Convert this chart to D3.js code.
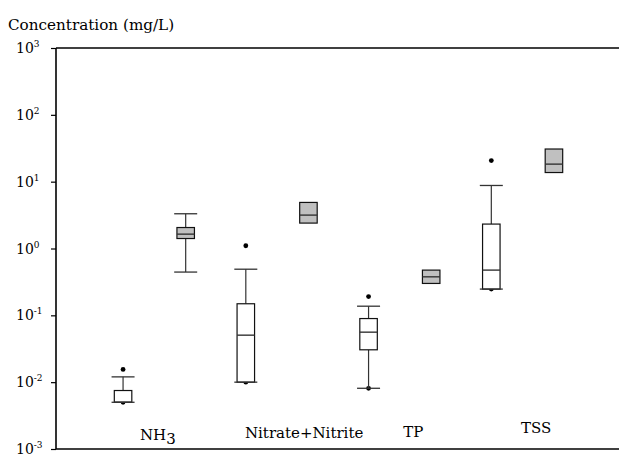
<!DOCTYPE html>
<html>
<head>
<meta charset="utf-8">
<script src="https://cdn.jsdelivr.net/npm/d3@7"></script>
<style>
  html, body { margin: 0; padding: 0; background: #fff; }
</style>
</head>
<body>
<svg id="chart" width="619" height="454"></svg>
<script>
// Pollutant categories along the x axis
const categories = ["NH3", "Nitrate+Nitrite", "TP", "TSS"];
const series = ["groupA", "groupB"];

// Box statistics per category (mg/L): min, q1, median, q3, max
const groupAMin    = [0.005, 0.010, 0.0081, 0.247];
const groupAQ1     = [0.005, 0.010, 0.0305, 0.247];
const groupAMedian = [0.005, 0.0505, 0.056, 0.475];
const groupAQ3     = [0.0075, 0.149, 0.0895, 2.32];
const groupAMax    = [0.012, 0.49, 0.137, 8.77];
const groupAPoints = [[0.0155, 0.005], [1.1, 0.010], [0.191, 0.0081], [20.7, 0.247]];

const groupBMin    = [0.444, 2.4, 0.30, 13.7];
const groupBQ1     = [1.41, 2.4, 0.30, 13.7];
const groupBMedian = [1.64, 3.16, 0.377, 18.3];
const groupBQ3     = [2.06, 4.89, 0.475, 30.8];
const groupBMax    = [3.31, 4.89, 0.475, 30.8];
const groupBPoints = [[], [], [], []];

// Y axis ticks (powers of ten)
const tickExponents = [-3, -2, -1, 0, 1, 2, 3];
const yTitle = "Concentration (mg/L)";

// ---- layout ----
const svg = d3.select("#chart");
const FONT = "DejaVu Serif";
const plotLeft = 56, plotRight = 619, plotTop = 48, plotBottom = 449;

const y = d3.scaleLog().domain([1e-3, 1e3]).range([plotBottom, plotTop]);
const x = d3.scaleBand().domain(categories).range([93, 584]).paddingInner(0).paddingOuter(0);
const xSub = d3.scaleBand().domain(series).range([0, x.bandwidth()]).paddingInner(0.34).paddingOuter(0.15);

const boxW = 17.5, capW = 23;
const styles = {
  groupA: { fill: "#ffffff", alwaysCap: true },
  groupB: { fill: "#c0c0c0", alwaysCap: false }
};

const boxes = [];
categories.forEach((c, i) => {
  boxes.push({ cat: c, s: "groupA", min: groupAMin[i], q1: groupAQ1[i], med: groupAMedian[i], q3: groupAQ3[i], max: groupAMax[i], pts: groupAPoints[i] });
  boxes.push({ cat: c, s: "groupB", min: groupBMin[i], q1: groupBQ1[i], med: groupBMedian[i], q3: groupBQ3[i], max: groupBMax[i], pts: groupBPoints[i] });
});
const cx = d => x(d.cat) + xSub(d.s) + xSub.bandwidth() / 2;

// frame: top and bottom rules
svg.append("line").attr("x1", plotLeft).attr("x2", plotRight).attr("y1", plotTop).attr("y2", plotTop)
  .attr("stroke", "#000").attr("stroke-width", 1.6);
svg.append("line").attr("x1", plotLeft).attr("x2", plotRight).attr("y1", plotBottom).attr("y2", plotBottom)
  .attr("stroke", "#000").attr("stroke-width", 1.6);

// left axis with power-of-ten labels
const yAxis = d3.axisLeft(y).tickValues(tickExponents.map(e => Math.pow(10, e))).tickSize(5).tickFormat("");
const gy = svg.append("g").attr("transform", `translate(${plotLeft},0)`).call(yAxis);
gy.select(".domain").attr("stroke", "#000").attr("stroke-width", 1.6).attr("d", `M0,${plotTop}V${plotBottom}`);
gy.selectAll(".tick line").attr("stroke", "#000").attr("stroke-width", 1.2);

const labels = svg.append("g");
tickExponents.forEach(e => {
  const t = labels.append("text")
    .attr("x", 16).attr("y", y(Math.pow(10, e)) + 5)
    .attr("font-family", FONT).attr("font-size", 14).attr("fill", "#000");
  t.append("tspan").text("10");
  t.append("tspan").attr("dy", -6).attr("font-size", 9).text(e < 0 ? "-" + Math.abs(e) : String(e));
});

// axis title
svg.append("text").attr("x", 8).attr("y", 30).attr("font-family", FONT).attr("font-size", 15.2).attr("fill", "#000").text(yTitle);

// low points first so box fill covers their upper half
const g = svg.append("g");
boxes.forEach(d => {
  d.pts.filter(v => v <= d.q1).forEach(v => {
    g.append("circle").attr("cx", cx(d)).attr("cy", y(v)).attr("r", 2.4).attr("fill", "#000");
  });
});

boxes.forEach(d => {
  const st = styles[d.s];
  const xc = cx(d);
  // whiskers
  if (d.max > d.q3) g.append("line").attr("x1", xc).attr("x2", xc).attr("y1", y(d.q3)).attr("y2", y(d.max)).attr("stroke", "#333").attr("stroke-width", 1.2);
  if (d.min < d.q1) g.append("line").attr("x1", xc).attr("x2", xc).attr("y1", y(d.q1)).attr("y2", y(d.min)).attr("stroke", "#333").attr("stroke-width", 1.2);
  // box
  g.append("rect").attr("x", xc - boxW / 2).attr("y", y(d.q3)).attr("width", boxW).attr("height", y(d.q1) - y(d.q3))
    .attr("fill", st.fill).attr("stroke", "#111").attr("stroke-width", 1.2);
  g.append("line").attr("x1", xc - boxW / 2).attr("x2", xc + boxW / 2).attr("y1", y(d.med)).attr("y2", y(d.med))
    .attr("stroke", "#333").attr("stroke-width", 1.4);
  // caps
  if (st.alwaysCap || d.max > d.q3) g.append("line").attr("x1", xc - capW / 2).attr("x2", xc + capW / 2).attr("y1", y(d.max)).attr("y2", y(d.max)).attr("stroke", "#333").attr("stroke-width", 1.3);
  if (st.alwaysCap || d.min < d.q1) g.append("line").attr("x1", xc - capW / 2).attr("x2", xc + capW / 2).attr("y1", y(d.min)).attr("y2", y(d.min)).attr("stroke", "#333").attr("stroke-width", 1.3);
  // high points
  d.pts.filter(v => v > d.q3).forEach(v => {
    g.append("circle").attr("cx", xc).attr("cy", y(v)).attr("r", 2.4).attr("fill", "#000");
  });
});

// category labels
const labelShift = [3.5, 27, 13.5, 13.5];
const labelBase = [440, 438, 437, 433];
categories.forEach((c, i) => {
  const t = svg.append("text")
    .attr("x", x(c) + x.bandwidth() / 2 + labelShift[i]).attr("y", labelBase[i])
    .attr("text-anchor", "middle").attr("font-family", FONT).attr("font-size", 15).attr("fill", "#000");
  if (c === "NH3") {
    t.append("tspan").text("NH");
    t.append("tspan").attr("dy", 4).text("3");
  } else {
    t.text(c);
  }
});
</script>
</body>
</html>
